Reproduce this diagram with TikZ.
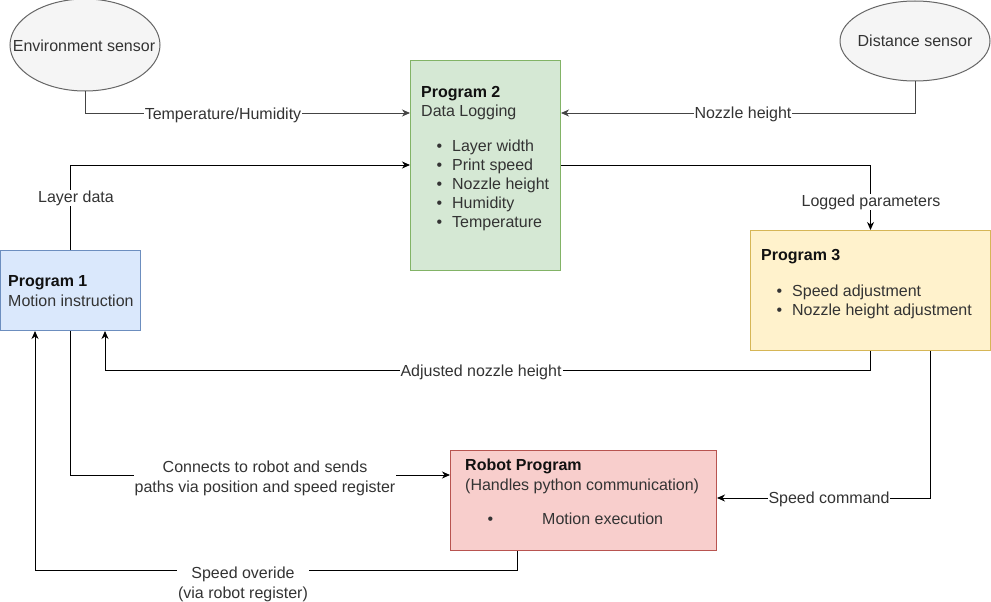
\documentclass[tikz,border=0pt]{standalone}
\usepackage{fontspec}
\setmainfont{Liberation Sans}
\usetikzlibrary{arrows.meta,shapes.geometric}
\definecolor{txt}{HTML}{333333}
\definecolor{ttl}{HTML}{111111}
\definecolor{sensfill}{HTML}{F5F5F5}
\definecolor{sensline}{HTML}{666666}
\definecolor{gfill}{HTML}{D5E8D4}
\definecolor{gline}{HTML}{82B366}
\definecolor{bfill}{HTML}{DAE8FC}
\definecolor{bline}{HTML}{6C8EBF}
\definecolor{yfill}{HTML}{FFF2CC}
\definecolor{yline}{HTML}{D6B656}
\definecolor{rfill}{HTML}{F8CECC}
\definecolor{rline}{HTML}{B85450}
\definecolor{grayline}{HTML}{444444}
\newcommand{\bitem}[1]{\makebox[15.6pt][l]{\textbullet}#1}
\begin{document}
\begin{tikzpicture}[x=1pt,y=-1pt,
  font=\fontsize{16}{20}\selectfont,
  sensor/.style={ellipse,draw=sensline,fill=sensfill,line width=1pt,inner sep=0pt},
  boxnode/.style={rectangle,line width=1pt,anchor=north west,inner sep=0pt},
  tx/.style={anchor=base west,text=txt,inner sep=0pt},
  ctx/.style={text=txt,inner sep=0pt},
  title/.style={anchor=base west,text=ttl,inner sep=0pt,font=\fontsize{16}{20}\selectfont\bfseries},
  lbl/.style={fill=white,text=txt,inner sep=1pt,align=center},
  conn/.style={draw=black,line width=1pt,-{Stealth[length=8pt,width=7pt,inset=2.5pt]}}]
\useasboundingbox[fill=white] (0,0) rectangle (991,602);

% sensors
\node[sensor,minimum width=150pt,minimum height=92pt] (env) at (85,45) {};
\node[ctx] (envt) at (84,46) {Environment sensor};
\node[sensor,minimum width=150pt,minimum height=80pt] (ds) at (915,41) {};
\node[ctx] (dst) at (915,41) {Distance sensor};

% boxes
\node[boxnode,draw=gline,fill=gfill,minimum width=150pt,minimum height=210pt] (p2) at (410,60) {};
\node[boxnode,draw=bline,fill=bfill,minimum width=140pt,minimum height=80pt] (p1) at (0,250) {};
\node[boxnode,draw=yline,fill=yfill,minimum width=240pt,minimum height=120pt] (p3) at (750,230) {};
\node[boxnode,draw=rline,fill=rfill,minimum width=266pt,minimum height=100pt] (rp) at (450,450) {};

% box texts
\node[title] (p2t) at (421,97) {Program 2};
\node[tx] (p2s) at (421,117) {Data Logging};
\node[tx] (p2a) at (436.4,151.5) {\bitem{Layer width}};
\node[tx] (p2b) at (436.4,170.5) {\bitem{Print speed}};
\node[tx] (p2c) at (436.4,189.5) {\bitem{Nozzle height}};
\node[tx] (p2d) at (436.4,208.5) {\bitem{Humidity}};
\node[tx] (p2e) at (436.4,227.5) {\bitem{Temperature}};

\node[title] (p1t) at (8,286) {Program 1};
\node[tx] (p1s) at (8,306) {Motion instruction};

\node[title] (p3t) at (761,260) {Program 3};
\node[tx] (p3a) at (776.4,296) {\bitem{Speed adjustment}};
\node[tx] (p3b) at (776.4,315) {\bitem{Nozzle height adjustment}};

\node[title] (rpt) at (465,470.5) {Robot Program};
\node[tx] (rps) at (465,490) {(Handles python communication)};
\node[tx] (rpb) at (487.4,524) {\textbullet};
\node[tx] (rpm) at (542,524) {Motion execution};

% connectors
\draw[conn,draw=grayline] (env.south) |- (p2.west |- 0,113);
\draw[conn,draw=grayline] (ds.south) |- (p2.east |- 0,113);
\draw[conn] (p1.north) |- (p2.west |- 0,165);
\draw[conn] (p2.east |- 0,165) -| (p3.north);
\draw[conn] (p3.south -| 870,0) -- (870,370) -| (p1.south -| 105,0);
\draw[conn] (p3.south -| 930,0) |- (rp.east |- 0,498);
\draw[conn] (p1.south) |- (rp.west |- 0,475);
\draw[conn] (rp.south -| 517,0) -- (517,570) -| (p1.south -| 35,0);

% labels
\node[lbl] (l1) at (223,115) {Temperature/Humidity};
\node[lbl] (l2) at (743,114) {Nozzle height};
\node[lbl] (l3) at (76,198) {Layer data};
\node[lbl] (l4) at (871,202) {Logged parameters};
\node[lbl] (l5) at (481,372) {Adjusted nozzle height};
\node[lbl] (l6) at (829,499) {Speed command};
\node[lbl] (l7) at (265,478.5) {Connects to robot and sends\\paths via position and speed register};
\node[lbl] (l8) at (243,584) {Speed overide\\(via robot register)};
\end{tikzpicture}
\end{document}
